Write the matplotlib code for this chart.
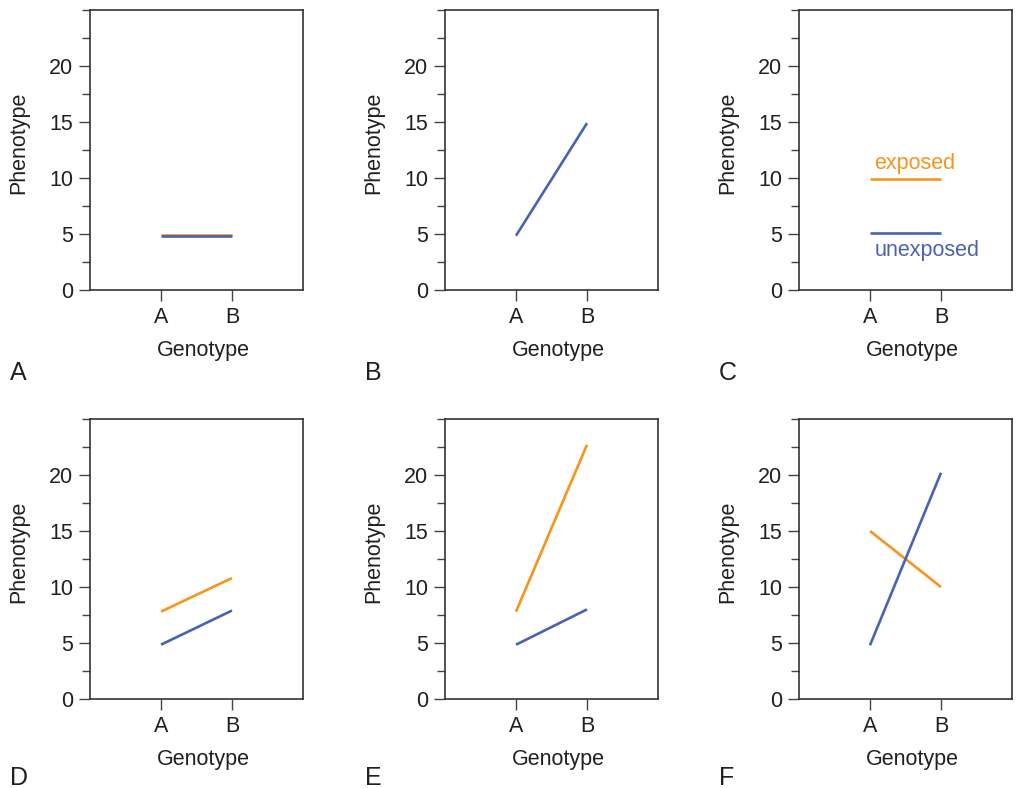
import matplotlib

matplotlib.use("Agg")
import matplotlib.pyplot as plt
from matplotlib.ticker import MultipleLocator

# genotype categories on the x axis
genotypes = ["A", "B"]

# phenotype values per panel (exposed / unexposed), None = not drawn
panel_letters = ["A", "B", "C", "D", "E", "F"]
exposed = [
    [4.9, 4.9],
    None,
    [9.9, 9.9],
    [7.8, 10.8],
    [7.8, 22.7],
    [15.0, 10.0],
]
unexposed = [
    [4.85, 4.85],
    [4.85, 14.9],
    [5.05, 5.05],
    [4.85, 7.9],
    [4.85, 8.0],
    [4.8, 20.2],
]

BLUE = "#4862b4"
ORANGE = "#f7941d"
INK = "#231f20"
FS = 15.5

plt.rcParams["font.family"] = ["Liberation Sans", "DejaVu Sans"]

W, H = 1016, 788
fig = plt.figure(figsize=(W / 100, H / 100), dpi=100)

col_left = [90, 445, 799]
row_top = [10, 419]
ax_w, ax_h = 213, 280

for i, letter in enumerate(panel_letters):
    r, c = divmod(i, 3)
    x0, y0 = col_left[c], row_top[r]
    ax = fig.add_axes([x0 / W, 1 - (y0 + ax_h) / H, ax_w / W, ax_h / H])
    xs = [1, 2]
    if exposed[i] is not None:
        ax.plot(xs, exposed[i], color=ORANGE, lw=1.9, solid_capstyle="butt")
    ax.plot(xs, unexposed[i], color=BLUE, lw=1.9, solid_capstyle="butt")

    ax.set_xlim(0, 3)
    ax.set_ylim(0, 25)
    ax.set_xticks(xs)
    ax.set_xticklabels(genotypes)
    ax.yaxis.set_major_locator(MultipleLocator(5))
    ax.yaxis.set_minor_locator(MultipleLocator(2.5))
    ax.set_yticks([0, 5, 10, 15, 20])
    ax.tick_params(axis="both", which="major", length=8, width=1.0,
                   color="#444444", labelsize=FS, labelcolor=INK, pad=4)
    ax.tick_params(axis="y", which="minor", length=6, width=1.0,
                   color="#444444")
    for sp in ax.spines.values():
        sp.set_color("#333333")
        sp.set_linewidth(1.2)

    ax.set_xlabel("Genotype", fontsize=FS, color=INK)
    ax.xaxis.set_label_coords(0.53, -0.18)
    ax.set_ylabel("Phenotype", fontsize=FS, color=INK)
    ax.yaxis.set_label_coords(-0.285, 0.525)

    if letter == "C":
        ax.text(1.06, 11.3, "exposed", color=ORANGE, fontsize=FS,
                ha="left", va="center")
        ax.text(1.06, 3.55, "unexposed", color=BLUE, fontsize=FS,
                ha="left", va="center")

    # panel letter in the lower left corner of the cell
    base_y = 380 if r == 0 else 785
    fig.text((x0 - 80) / W, 1 - base_y / H, letter, fontsize=18,
             color=INK, ha="left", va="baseline")

fig.savefig("out.png", dpi=100)
